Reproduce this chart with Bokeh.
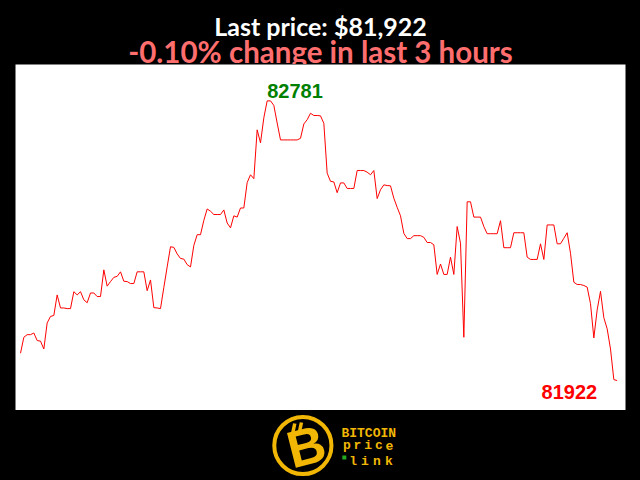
import numpy as np
from bokeh.plotting import figure
from bokeh.layouts import column
from bokeh.models import Range1d, ColumnDataSource
from bokeh.core.properties import value
from bokeh.embed import file_html
from bokeh.resources import INLINE

# ---- data: BTC price, one point per minute over the last 3 hours ----
minutes = list(range(180))
prices = [
    82006, 82055, 82063, 82063, 82068, 82045, 82043, 82019, 82099, 82119,
    82122, 82185, 82145, 82145, 82143, 82143, 82195, 82185, 82195, 82170,
    82161, 82191, 82191, 82180, 82180, 82262, 82212, 82226, 82239, 82242,
    82256, 82227, 82226, 82220, 82220, 82256, 82256, 82256, 82198, 82231,
    82146, 82145, 82143, 82208, 82271, 82333, 82331, 82311, 82297, 82295,
    82278, 82271, 82337, 82370, 82370, 82414, 82449, 82442, 82432, 82432,
    82432, 82446, 82406, 82391, 82428, 82424, 82452, 82452, 82530, 82554,
    82542, 82692, 82652, 82729, 82781, 82781, 82767, 82713, 82661, 82661,
    82661, 82661, 82661, 82661, 82666, 82710, 82723, 82743, 82736, 82736,
    82735, 82712, 82559, 82534, 82532, 82499, 82529, 82529, 82512, 82512,
    82512, 82567, 82567, 82567, 82562, 82554, 82567, 82481, 82508, 82523,
    82521, 82520, 82482, 82454, 82428, 82374, 82358, 82358, 82367, 82367,
    82367, 82362, 82346, 82346, 82339, 82248, 82280, 82248, 82248, 82301,
    82248, 82395, 82344, 82055, 82471, 82471, 82424, 82424, 82424, 82395,
    82373, 82373, 82373, 82373, 82413, 82330, 82330, 82330, 82376, 82376,
    82376, 82376, 82301, 82294, 82294, 82294, 82342, 82294, 82400, 82400,
    82400, 82342, 82342, 82359, 82376, 82313, 82224, 82217, 82217, 82214,
    82209, 82158, 82053, 82139, 82196, 82115, 82081, 82019, 81925, 81922,
]
title_line1 = "Last price: $81,922"
title_line2 = "-0.10% change in last 3 hours"
logo_words = ["BITCOIN", "price", "link"]

W = 640
BLACK = "#000000"
GOLD = "#f2b705"
BG = {"background-color": BLACK}

arr = np.array(prices)
imax = int(np.argmax(arr))
pmax, pmin = int(arr.max()), int(arr.min())
span = pmax - pmin


def blank(fig):
    fig.background_fill_color = BLACK
    fig.border_fill_color = BLACK
    fig.outline_line_color = None
    fig.grid.visible = False


# ---- header ----
head = figure(width=W, height=64, x_range=Range1d(0, W), y_range=Range1d(0, 64),
              x_axis_location=None, y_axis_location=None, toolbar_location=None,
              output_backend="svg", min_border=0, styles=BG)
blank(head)
head.text(x=[320], y=[39], text=[title_line1], text_color="#ffffff",
          text_font=value("Lato"), text_font_style="bold", text_font_size="25px",
          text_align="center", text_baseline="alphabetic")
head.text(x=[320], y=[13], text=[title_line2], text_color="#ff6e6e",
          text_font=value("Lato"), text_font_style="bold", text_font_size="29.5px",
          text_align="center", text_baseline="alphabetic")

# ---- main chart ----
p = figure(width=W, height=346,
           x_range=Range1d(minutes[0] - 1.5, minutes[-1] + 2.5),
           y_range=Range1d(pmin - 0.107 * span, pmax + 0.13 * span),
           x_axis_location=None, y_axis_location=None, toolbar_location=None,
           output_backend="svg", min_border_left=15, min_border_right=15,
           min_border_top=0, min_border_bottom=0, styles=BG)
p.background_fill_color = "#ffffff"
p.border_fill_color = BLACK
p.outline_line_color = None
p.grid.visible = False
p.line(minutes, prices, line_color="#ff0000", line_width=1)

src_max = ColumnDataSource(dict(x=[minutes[imax]], y=[pmax], t=[str(pmax)]))
p.text(x="x", y="y", text="t", source=src_max, text_color="#008000",
       text_font=value("Liberation Sans"), text_font_style="bold", text_font_size="20px",
       text_align="left", text_baseline="alphabetic", y_offset=-10)
src_last = ColumnDataSource(dict(x=[minutes[-1]], y=[prices[-1]], t=[str(prices[-1])]))
p.text(x="x", y="y", text="t", source=src_last, text_color="#ff0000",
       text_font=value("Liberation Sans"), text_font_style="bold", text_font_size="20px",
       text_align="right", text_baseline="alphabetic", x_offset=-20, y_offset=11)

# ---- footer logo ----
foot = figure(width=W, height=70, x_range=Range1d(0, W), y_range=Range1d(0, 70),
              x_axis_location=None, y_axis_location=None, toolbar_location=None,
              output_backend="svg", min_border=0, styles=BG)
blank(foot)
foot.circle(x=[301.5], y=[35], radius=30, fill_color=None, line_color=GOLD, line_width=4)
foot.segment(x0=[291, 298], y0=[48, 49], x1=[293, 300], y1=[57, 58], line_color=GOLD, line_width=3.5)
foot.text(x=[305], y=[34], text=["B"], text_color=GOLD, angle=0.25,
          text_font=value("Liberation Sans"), text_font_style="bold", text_font_size="52px",
          text_align="center", text_baseline="middle")
foot.text(x=[342], y=[47], text=[logo_words[0]], text_color=GOLD,
          text_font=value("Liberation Mono"), text_font_style="bold", text_font_size="13px",
          text_align="left", text_baseline="alphabetic")
foot.text(x=[347.6 + i * 11.2 for i in range(5)], y=[35] * 5, text=list(logo_words[1]),
          text_color=GOLD, text_font=value("Liberation Mono"), text_font_style="bold",
          text_font_size="13px", text_align="center", text_baseline="alphabetic")
foot.text(x=[354.2 + i * 12.5 for i in range(4)], y=[19.5] * 4, text=list(logo_words[2]),
          text_color=GOLD, text_font=value("Liberation Mono"), text_font_style="bold",
          text_font_size="13px", text_align="center", text_baseline="alphabetic")
foot.scatter(x=[345], y=[23], marker="square", size=4, fill_color="#22aa22", line_color=None)

layout = column(head, p, foot, spacing=0, styles=BG)
open("out.html", "w").write(file_html(layout, INLINE))
